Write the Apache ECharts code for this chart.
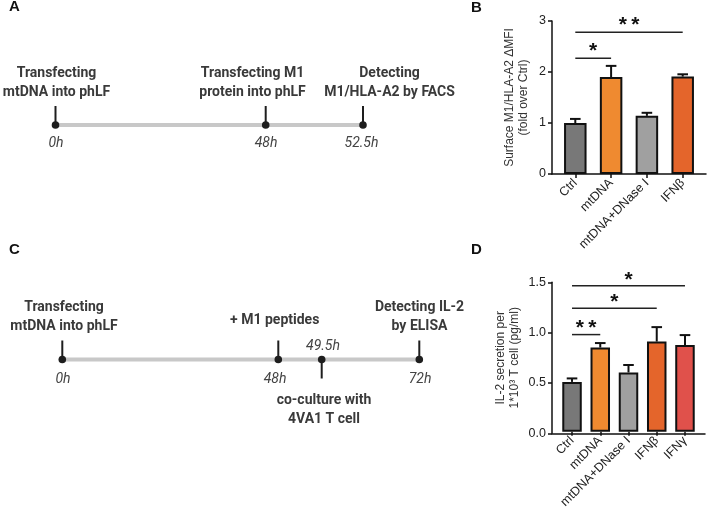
<!DOCTYPE html>
<html><head><meta charset="utf-8">
<script src="https://cdn.jsdelivr.net/npm/echarts@6/dist/echarts.min.js"></script>
<style>html,body{margin:0;padding:0;background:#fff}#c{width:709px;height:511px}</style>
</head><body><div id="c"></div>
<script>
// ---------- DATA ----------
const catsB = ['Ctrl', 'mtDNA', 'mtDNA+DNase I', 'IFNβ'];
const meanB = [1.0, 1.9, 1.14, 1.91];
const upperB = [1.08, 2.12, 1.2, 1.955];
const ticksB = [0, 1, 2, 3];
// significance: from category, to category, bracket level, star level, number of stars
const sigFromB = [0, 0];
const sigToB = [1, 3];
const sigLineB = [2.27, 2.78];
const sigStarB = [2.5, 3.0];
const sigCountB = [1, 2];

const catsD = ['Ctrl', 'mtDNA', 'mtDNA+DNase I', 'IFNβ', 'IFNγ'];
const meanD = [0.5, 0.845, 0.595, 0.905, 0.87];
const upperD = [0.535, 0.89, 0.67, 1.05, 0.97];
const ticksD = [0, 0.5, 1.0, 1.5];
const sigFromD = [0, 0, 0];
const sigToD = [1, 3, 4];
const sigLineD = [0.975, 1.24, 1.465];
const sigStarD = [1.085, 1.35, 1.565];
const sigCountD = [2, 1, 1];

const timesA = ['0h', '48h', '52.5h'];
const eventsA = ['Transfecting\nmtDNA into phLF', 'Transfecting M1\nprotein into phLF', 'Detecting\nM1/HLA-A2 by FACS'];
const timesC = ['0h', '48h', '49.5h', '72h'];
const eventsC = ['Transfecting\nmtDNA into phLF', '+ M1 peptides', 'co-culture with\n4VA1 T cell', 'Detecting IL-2\nby ELISA'];

// ---------- STYLE / LAYOUT ----------
const barColorsB = ['#787878', '#EF8A30', '#A0A0A0', '#E4652B'];
const barColorsD = ['#787878', '#EF8A30', '#A0A0A0', '#E4652B', '#E0514B'];
const FONT = 'Liberation Sans, Arial, sans-serif';
const TL_FONT = 'Roboto, sans-serif';

const layA = { lineY: 125, dotX: [55.5, 265.7, 363], stemDir: [-1, -1, -1],
  textX: [56.5, 252.5, 389.5], textY: [83.3, 83.3, 83.3],
  timeX: [56, 266, 361.5], timeY: [143, 143, 143] };
const layC = { lineY: 359.5, dotX: [62.3, 278.3, 321.7, 419.3], stemDir: [-1, -1, 1, -1],
  textX: [64, 274.7, 324, 419.5], textY: [317, 320, 410, 317],
  timeX: [63, 275, 323, 420], timeY: [379, 379, 346, 379] };

function timelineGraphics(times, events, lay) {
  const g = [];
  const x0 = lay.dotX[0], x1 = lay.dotX[lay.dotX.length - 1];
  g.push({ type: 'rect', shape: { x: x0, y: lay.lineY - 2, width: x1 - x0, height: 4 }, style: { fill: '#C8C8C8' }, z: 1 });
  times.forEach((t, i) => {
    const x = lay.dotX[i];
    const d = lay.stemDir[i];
    g.push({ type: 'line', shape: { x1: x, y1: lay.lineY, x2: x, y2: lay.lineY + d * 19 }, style: { stroke: '#1E1E1E', lineWidth: 2 }, z: 2 });
    g.push({ type: 'circle', shape: { cx: x, cy: lay.lineY, r: 3.8 }, style: { fill: '#1E1E1E' }, z: 3 });
    g.push({ type: 'text', x: lay.timeX[i], y: lay.timeY[i], style: { text: t, align: 'center', verticalAlign: 'middle', fontFamily: TL_FONT, fontStyle: 'italic', fontSize: 14, fill: '#444' }, z: 3 });
    g.push({ type: 'text', x: lay.textX[i], y: lay.textY[i], style: { text: events[i], align: 'center', verticalAlign: 'middle', lineHeight: 19, fontFamily: TL_FONT, fontWeight: 'bold', fontSize: 14, fill: '#3A3A3A' }, z: 3 });
  });
  return g;
}

function letter(t, x, y) {
  return { type: 'text', x: x, y: y, style: { text: t, align: 'left', verticalAlign: 'middle', fontFamily: FONT, fontWeight: 'bold', fontSize: 15, fill: '#111' } };
}

function chartParts(idx, cats, means, uppers, colors, sigFrom, sigTo, sigLine, sigStar, sigCount, box, yMax, yInt, yName, nameGap, barW, labelDigits) {
  const g0 = idx * 2, g1 = idx * 2 + 1;
  const grids = [
    { left: box.left, top: box.top, width: box.width, height: box.height },
    { left: box.left + box.pad, top: box.top, width: box.width - 2 * box.pad, height: box.height }
  ];
  const xAxes = [
    { gridIndex: g0, type: 'value', min: 0, max: 1, axisLine: { show: true, onZero: false, lineStyle: { color: '#111', width: 1.5 } }, axisTick: { show: false }, axisLabel: { show: false }, splitLine: { show: false } },
    { gridIndex: g1, type: 'category', data: cats, axisLine: { show: false }, axisTick: { show: true, alignWithLabel: true, length: 4, lineStyle: { color: '#111', width: 1.5 } },
      axisLabel: { rotate: 45, margin: 7, fontFamily: FONT, fontSize: 12.5, color: '#222', interval: 0 }, splitLine: { show: false } }
  ];
  const yAxes = [
    { gridIndex: g0, type: 'value', min: 0, max: yMax, interval: yInt,
      axisLine: { show: true, lineStyle: { color: '#111', width: 1.5 } }, axisTick: { show: true, length: 4, lineStyle: { color: '#111', width: 1.5 } },
      axisLabel: { fontFamily: FONT, fontSize: 12.5, color: '#222', margin: 6, formatter: v => v.toFixed(labelDigits) }, splitLine: { show: false },
      name: yName, nameLocation: 'middle', nameRotate: 90, nameGap: nameGap,
      nameTextStyle: { fontFamily: FONT, fontSize: 12, color: '#333', lineHeight: 14, align: 'center' } },
    { gridIndex: g1, type: 'value', min: 0, max: yMax, interval: yInt, show: false, splitLine: { show: false } }
  ];
  const series = [
    { type: 'bar', xAxisIndex: g1, yAxisIndex: g1, barWidth: barW,
      data: means.map((v, i) => ({ value: v, itemStyle: { color: colors[i] } })),
      itemStyle: { borderColor: '#111', borderWidth: 2 }, z: 3, animation: false },
    { type: 'custom', xAxisIndex: g1, yAxisIndex: g1, z: 2, animation: false, clip: false,
      data: means.map((v, i) => [i, v, uppers[i]]),
      encode: { x: 0, y: [1, 2] },
      renderItem: (params, api) => {
        const p0 = api.coord([api.value(0), api.value(1)]);
        const p1 = api.coord([api.value(0), api.value(2)]);
        const c = 5.3;
        return { type: 'group', children: [
          { type: 'line', shape: { x1: p0[0], y1: p0[1], x2: p1[0], y2: p1[1] }, style: { stroke: '#111', lineWidth: 2 } },
          { type: 'line', shape: { x1: p1[0] - c, y1: p1[1], x2: p1[0] + c, y2: p1[1] }, style: { stroke: '#111', lineWidth: 2 } }
        ] };
      } },
    { type: 'custom', xAxisIndex: g1, yAxisIndex: g1, z: 4, animation: false, clip: false,
      data: sigFrom.map((f, i) => [f, sigTo[i], sigLine[i], sigStar[i], sigCount[i]]),
      encode: { x: [0, 1], y: [2, 3] },
      renderItem: (params, api) => {
        const a = api.coord([api.value(0), api.value(2)]);
        const b = api.coord([api.value(1), api.value(2)]);
        const s = api.coord([api.value(0), api.value(3)]);
        const mid = (a[0] + b[0]) / 2;
        const n = api.value(4);
        const ch = [{ type: 'line', shape: { x1: a[0], y1: a[1], x2: b[0], y2: b[1] }, style: { stroke: '#222', lineWidth: 1.5 } }];
        for (let k = 0; k < n; k++) {
          ch.push({ type: 'text', x: mid + (k - (n - 1) / 2) * 12.5, y: s[1] + 4.5, style: { text: '*', align: 'center', verticalAlign: 'middle', fontFamily: FONT, fontWeight: 'bold', fontSize: 21, fill: '#111' } });
        }
        return { type: 'group', children: ch };
      } }
  ];
  return { grids, xAxes, yAxes, series };
}

const B = chartParts(0, catsB, meanB, upperB, barColorsB, sigFromB, sigToB, sigLineB, sigStarB, sigCountB,
  { left: 552, top: 21, width: 154, height: 153, pad: 5.4 }, 3, 1, 'Surface M1/HLA-A2 ΔMFI\n(fold over Ctrl)', 21, 22.5, 0);
const D = chartParts(1, catsD, meanD, upperD, barColorsD, sigFromD, sigToD, sigLineD, sigStarD, sigCountD,
  { left: 552, top: 282.3, width: 153, height: 151, pad: 5.9 }, 1.5, 0.5, 'IL-2 secretion per\n1*10³ T cell (pg/ml)', 30, 19.5, 1);

const chart = echarts.init(document.getElementById('c'), null, { renderer: 'canvas' });
chart.setOption({
  animation: false,
  backgroundColor: '#fff',
  grid: [...B.grids, ...D.grids],
  xAxis: [...B.xAxes, ...D.xAxes],
  yAxis: [...B.yAxes, ...D.yAxes],
  series: [...B.series, ...D.series],
  graphic: [
    letter('A', 9, 7), letter('B', 471, 8), letter('C', 9, 250), letter('D', 471, 250),
    ...timelineGraphics(timesA, eventsA, layA),
    ...timelineGraphics(timesC, eventsC, layC)
  ]
});
</script></body></html>
